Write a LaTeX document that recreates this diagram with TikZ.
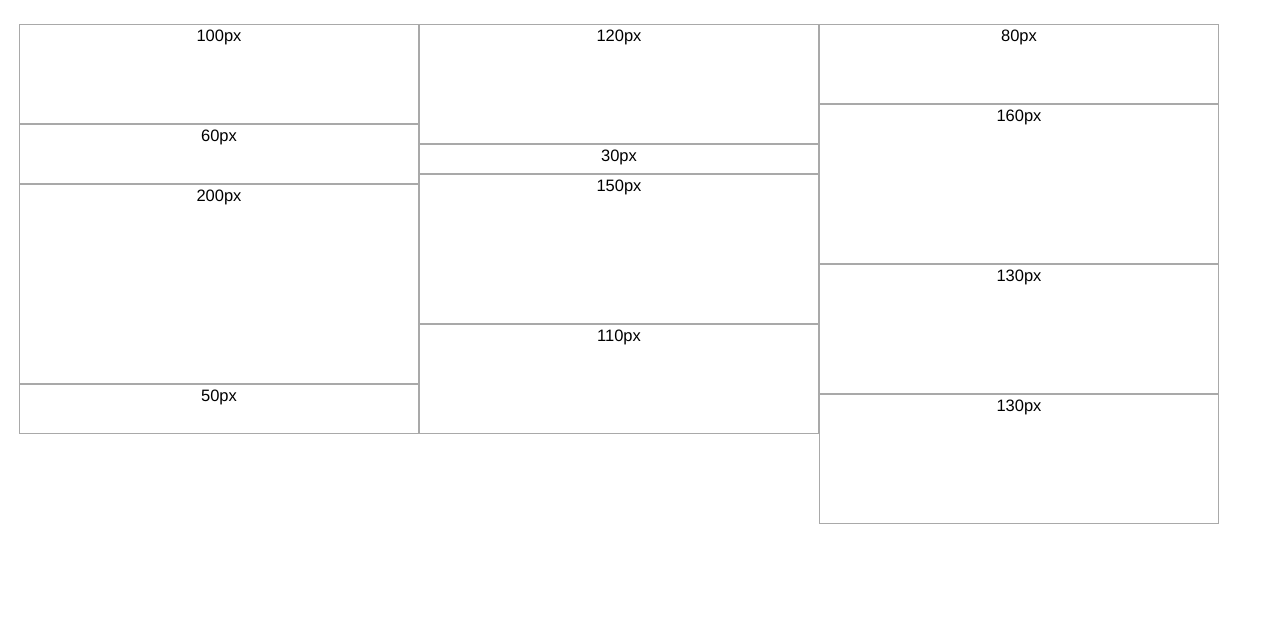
\documentclass[tikz,border=0pt]{standalone}
\usepackage{fontspec}
\setmainfont{Liberation Sans}
\begin{document}
\begin{tikzpicture}[x=1pt,y=-1pt,
  box/.style={draw=boxgray,line width=1pt,inner sep=0,outer sep=0,minimum width=399pt},
  lbl/.style={anchor=base,inner sep=0,font=\fontsize{16.5}{19}\selectfont,text=black}]
\definecolor{boxgray}{HTML}{A9A9A9}
\useasboundingbox[fill=white] (0,0) rectangle (1281,640);
% columns: x offsets 19, 419, 819 ; top 24
\foreach \col/\x/\list in {a/19/{100,60,200,50}, b/419/{120,30,150,110}, c/819/{80,160,130,130}}{
  \def\ytop{24}
  \foreach \h [count=\i] in \list {
    \pgfmathsetmacro\cy{\ytop+\h/2}
    \pgfmathsetmacro\hh{\h-1}
    \node[box,minimum height=\hh pt] (\col\i) at (\x+200,\cy) {};
    \node[lbl] (\col\i t) at (\x+200,\ytop+17) {\h px};
    \pgfmathsetmacro\ny{\ytop+\h}
    \global\let\ytop\ny
  }
}
\end{tikzpicture}
\end{document}
